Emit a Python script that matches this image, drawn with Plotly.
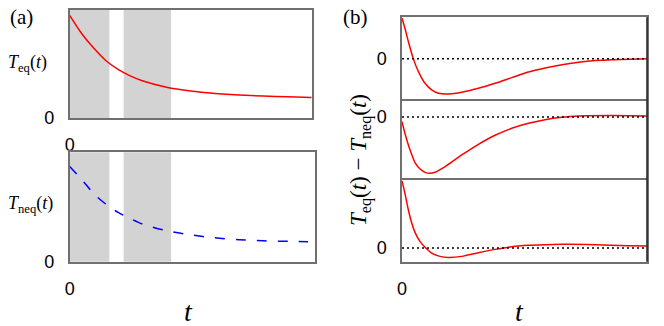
import plotly.graph_objects as go

# ---- data ----
# (a) relaxation curves, t in arbitrary units 0..10, value 0..1
t_a = [0, 0.5, 1, 1.5, 2, 2.5, 3, 4, 5, 6, 7, 8, 9, 10]
T_eq = [0.95, 0.78, 0.645, 0.53, 0.45, 0.39, 0.345, 0.285, 0.25, 0.228, 0.213, 0.203, 0.196, 0.19]
t_neq = [0, 0.5, 1, 1.5, 2, 2.5, 3, 4, 5, 6, 7, 8, 9, 9.85]
T_neq = [0.87, 0.75, 0.62, 0.525, 0.45, 0.395, 0.345, 0.283, 0.245, 0.218, 0.201, 0.191, 0.186, 0.183]

# shaded time windows
shade_windows = [(0, 1.64), (2.23, 4.19)]

# (b) difference T_eq - T_neq for three cases
t_b1 = [0, 0.12, 0.26, 0.46, 0.67, 0.94, 1.21, 1.49, 1.89, 2.44, 3.12, 3.80, 4.48, 5.16, 5.84, 6.53, 7.21, 7.89, 8.57, 10]
d_b1 = [1.0, 0.746, 0.418, 0, -0.32, -0.607, -0.77, -0.852, -0.869, -0.828, -0.73, -0.607, -0.467, -0.328, -0.23, -0.148, -0.09, -0.049, -0.025, 0]

t_b2 = [0, 0.12, 0.26, 0.4, 0.53, 0.74, 0.94, 1.14, 1.35, 1.76, 2.44, 3.12, 3.80, 4.48, 5.16, 5.84, 6.53, 7.21, 8.57, 10]
d_b2 = [-0.115, -0.40, -0.69, -0.93, -1.12, -1.28, -1.36, -1.385, -1.36, -1.22, -0.934, -0.672, -0.45, -0.279, -0.156, -0.066, -0.008, 0.025, 0.033, 0.025]

t_b3 = [0, 0.12, 0.26, 0.4, 0.53, 0.74, 0.97, 1.21, 1.55, 1.89, 2.44, 3.12, 3.80, 4.48, 5.16, 5.84, 6.53, 7.89, 9.25, 10]
d_b3 = [1.65, 1.344, 0.934, 0.607, 0.385, 0.156, 0, -0.123, -0.205, -0.23, -0.205, -0.115, -0.033, 0.033, 0.066, 0.082, 0.09, 0.082, 0.057, 0.049]

# ---- layout helpers (pixel based, canvas 664x326) ----
W, H = 664, 326


def px(x):
    return x / W


def py(y):
    return 1 - y / H


frame = dict(showline=True, mirror=True, linecolor="#707070", linewidth=1.5,
             showgrid=False, zeroline=False, automargin=False)
tickfont = dict(family="Liberation Sans, Arial, sans-serif", size=18, color="black")
serif = "Liberation Serif, Times New Roman, serif"

fig = go.Figure()

red = dict(color="#ff0000", width=1.5, shape="spline", smoothing=0.8)

fig.add_trace(go.Scatter(x=t_a, y=T_eq, mode="lines", line=red, xaxis="x", yaxis="y"))
fig.add_trace(go.Scatter(x=t_neq, y=T_neq, mode="lines",
                         line=dict(color="#0000ff", width=1.5, dash="10px,11px",
                                   shape="spline", smoothing=0.8),
                         xaxis="x2", yaxis="y2"))
fig.add_trace(go.Scatter(x=t_b1, y=d_b1, mode="lines", line=red, xaxis="x3", yaxis="y3"))
fig.add_trace(go.Scatter(x=t_b2, y=d_b2, mode="lines", line=red, xaxis="x4", yaxis="y4"))
fig.add_trace(go.Scatter(x=t_b3, y=d_b3, mode="lines", line=red, xaxis="x5", yaxis="y5"))

xtick = dict(tickvals=[0], ticktext=["0"], ticks="outside", ticklen=10,
             tickcolor="rgba(0,0,0,0)", tickfont=tickfont)
ytick = dict(tickvals=[0], ticktext=["0"], ticks="outside", ticklen=10,
             tickcolor="rgba(0,0,0,0)", tickfont=tickfont)
noticks = dict(showticklabels=False, ticks="")
frame_mid = dict(frame, showline=False, mirror=False)

fig.update_layout(
    width=W, height=H,
    margin=dict(l=0, r=0, t=0, b=0),
    paper_bgcolor="white", plot_bgcolor="white",
    showlegend=False,
    xaxis=dict(domain=[px(69.7), px(311.7)], range=[0, 10], anchor="y", **frame, **xtick),
    yaxis=dict(domain=[py(118), py(10)], range=[0, 1], anchor="x", **frame, **ytick),
    xaxis2=dict(domain=[px(69.7), px(315.3)], range=[0, 10.15], anchor="y2", **frame, **xtick),
    yaxis2=dict(domain=[py(261.7), py(152.3)], range=[0, 1], anchor="x2", **frame, **ytick),
    xaxis3=dict(domain=[px(402), px(647)], range=[0, 10], anchor="y3", **frame, **noticks),
    yaxis3=dict(domain=[py(99.3), py(17.3)], range=[-1.0, 1.016], anchor="x3", **frame, **ytick),
    xaxis4=dict(domain=[px(402), px(647)], range=[0, 10], anchor="y4", **frame_mid, **noticks),
    yaxis4=dict(domain=[py(180.7), py(99.3)], range=[-1.566, 0.434], anchor="x4", **frame, **ytick),
    xaxis5=dict(domain=[px(402), px(647)], range=[0, 10], anchor="y5", **frame, **xtick),
    yaxis5=dict(domain=[py(261.7), py(180.3)], range=[-0.336, 1.664], anchor="x5", **frame, **ytick),
)

# shaded windows in panel (a)
shapes = []
for xa, ya in [("x", "y"), ("x2", "y2")]:
    for t0, t1 in shade_windows:
        shapes.append(dict(type="rect", xref=xa, yref=ya + " domain", x0=t0, x1=t1,
                           y0=0, y1=1, fillcolor="#d3d3d3", line_width=0, layer="below"))

# dotted zero reference in panel (b)
for xa, ya in [("x3", "y3"), ("x4", "y4"), ("x5", "y5")]:
    shapes.append(dict(type="line", xref=xa + " domain", yref=ya, x0=0, x1=1, y0=0, y1=0,
                       line=dict(color="black", width=1.5, dash="2px,3px"), layer="above"))

# darker right edge of panel (b)
shapes.append(dict(type="line", xref="x3 domain", yref="paper", x0=1, x1=1,
                   y0=py(261.7), y1=py(17.3), line=dict(color="#222222", width=1.5)))
fig.update_layout(shapes=shapes)

ann = [
    dict(text="(a)", x=px(21), y=py(17), font=dict(family=serif, size=21)),
    dict(text="(b)", x=px(355), y=py(17), font=dict(family=serif, size=21)),
    dict(text="<i>T</i><sub>eq</sub>(<i>t</i>)", x=px(27), y=py(63),
         font=dict(family=serif, size=18)),
    dict(text="<i>T</i><sub>neq</sub>(<i>t</i>)", x=px(30), y=py(204),
         font=dict(family=serif, size=18)),
    dict(text="<i>t</i>", x=px(188), y=py(311), font=dict(family=serif, size=28)),
    dict(text="<i>t</i>", x=px(519), y=py(311), font=dict(family=serif, size=28)),
    dict(text="<i>T</i><sub>eq</sub>(<i>t</i>) − <i>T</i><sub>neq</sub>(<i>t</i>)",
         x=px(360), y=py(160), textangle=-90, font=dict(family=serif, size=23)),
]
for a in ann:
    a.update(xref="paper", yref="paper", showarrow=False,
             xanchor="center", yanchor="middle")
    a["font"]["color"] = "black"
fig.update_layout(annotations=ann)

# drop the browser's default page margin so the figure sits at the window corner
fig.write_html("out.html", config={"displayModeBar": False},
               post_script="document.body.style.margin='0';")
